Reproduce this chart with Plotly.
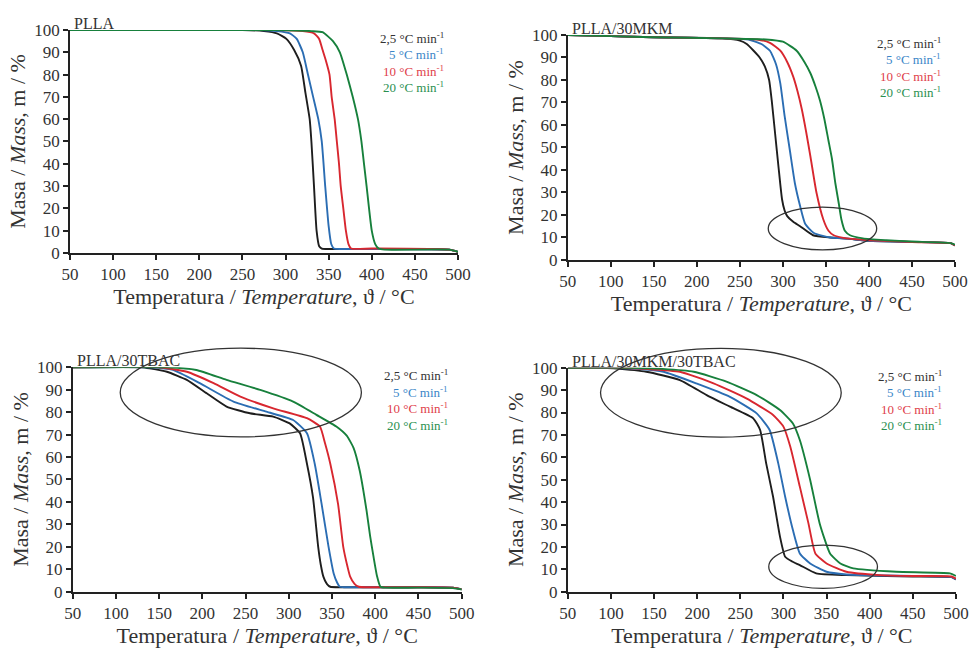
import plotly.graph_objects as go

# ---------------- data ----------------
panel_titles = ["PLLA", "PLLA/30MKM", "PLLA/30TBAC", "PLLA/30MKM/30TBAC"]
rate_labels = ["2,5 °C min<sup>-1</sup>", "5 °C min<sup>-1</sup>", "10 °C min<sup>-1</sup>", "20 °C min<sup>-1</sup>"]
x_ticks = [50, 100, 150, 200, 250, 300, 350, 400, 450, 500]
y_ticks = [0, 10, 20, 30, 40, 50, 60, 70, 80, 90, 100]

# PLLA
plla_T_25 = [50, 250, 275, 290, 301, 310, 318, 323, 328, 330, 333, 336, 339, 342, 350, 400, 490, 500]
plla_m_25 = [100, 100, 99.5, 98.5, 96, 91, 84, 72, 60, 50, 30, 10, 3, 2, 1.8, 1.8, 1.5, 0.5]
plla_T_5 = [50, 270, 290, 305, 313, 320, 326, 332, 338, 342, 346, 350, 353, 356, 365, 400, 490, 500]
plla_m_5 = [100, 100, 99.5, 98.5, 96, 90, 80, 70, 60, 50, 30, 12, 4, 2, 1.8, 1.8, 1.5, 0.5]
plla_T_10 = [50, 290, 320, 333, 339, 343, 347, 351, 353.5, 357, 359.5, 362, 364, 367, 370, 373, 376, 400, 490, 500]
plla_m_10 = [100, 100, 99.5, 98.5, 96, 91, 86, 80, 70, 60, 50, 40, 30, 20, 10, 4, 2, 2, 1.5, 0.5]
plla_T_20 = [50, 290, 330, 343, 355, 363, 371, 378, 384, 388, 391, 394, 400, 404, 408, 415, 490, 500]
plla_m_20 = [100, 100, 99.5, 99, 95, 90, 80, 70, 60, 50, 40, 30, 10, 4, 2, 1.5, 1.5, 0.5]

# PLLA/30MKM
mkm_T_25 = [50, 100, 150, 230, 250, 258, 266, 273, 279, 284, 287, 291, 295, 299, 302, 305, 312, 320, 335, 355, 375, 400, 450, 495, 500]
mkm_m_25 = [100, 99.5, 99, 98.5, 97.5, 96, 93, 90, 86, 80, 71, 56, 41, 27, 22, 19.5, 17, 15, 11, 10, 9.5, 8.5, 8, 7.5, 6.5]
mkm_T_5 = [50, 100, 150, 230, 260, 275, 285, 292, 297, 302, 308, 314, 320, 326, 336, 355, 375, 400, 450, 495, 500]
mkm_m_5 = [100, 99.5, 99, 98.5, 98, 96, 93, 87, 78.5, 64, 49, 34, 24, 16, 12, 10, 9.5, 8.5, 8, 7.5, 6.5]
mkm_T_10 = [50, 100, 150, 230, 270, 285, 297, 305, 312, 317, 322, 327, 332, 339, 347, 353, 359, 374, 400, 450, 495, 500]
mkm_m_10 = [100, 99.5, 99, 98.5, 98, 96.5, 93, 88, 81.5, 75, 67, 57, 46, 30, 18, 13, 11, 9.6, 8.8, 8, 7.5, 6.5]
mkm_T_20 = [50, 100, 150, 230, 280, 300, 316, 325, 332, 338, 343, 348, 353, 357, 361, 365, 368, 372, 378, 393, 420, 450, 495, 500]
mkm_m_20 = [100, 99.5, 99, 98.5, 98, 97, 93, 88, 83, 77, 71, 63, 53, 45, 34, 25, 18, 13, 11, 9.6, 8.8, 8.2, 7.5, 6.8]

# PLLA/30TBAC
tbac_T_25 = [50, 130, 139, 159, 182, 205, 228, 255, 282, 301, 313, 321, 328, 334, 337, 340, 344, 348, 360, 450, 490, 500]
tbac_m_25 = [100, 100, 99.5, 98, 94.4, 88.4, 82.5, 79.5, 78, 75, 70.6, 57, 42, 20, 12, 6.7, 3.5, 2.2, 2, 2, 1.8, 1]
tbac_T_5 = [50, 140, 166, 197, 236, 274, 305, 321, 330, 338, 346, 352, 356, 359, 365, 450, 490, 500]
tbac_m_5 = [100, 100, 98.8, 92.9, 84.7, 80.2, 76.5, 70.6, 57, 39, 20, 8, 4, 2.2, 2, 2, 1.8, 1]
tbac_T_10 = [50, 150, 182, 213, 244, 282, 321, 336, 342, 348, 357, 363, 368, 371, 376, 381, 390, 450, 490, 500]
tbac_m_10 = [100, 100, 98, 92.9, 86.9, 81.7, 77.3, 73.6, 66, 57, 39, 20, 11, 6.7, 3.5, 2.2, 2, 2, 1.8, 1]
tbac_T_20 = [50, 160, 193, 228, 267, 305, 332, 355, 367, 375, 382, 390, 394, 398, 402, 406, 412, 450, 490, 500]
tbac_m_20 = [100, 100, 98.8, 94.4, 89.9, 84.7, 78.8, 73.6, 69.5, 64, 54, 36, 25, 15.6, 7, 2.2, 1.8, 1.8, 1.6, 1]

# PLLA/30MKM/30TBAC
both_T_25 = [50, 90, 103, 141, 180, 211, 238, 265, 273, 280, 288, 296, 302, 310, 319, 338, 373, 420, 450, 495, 500]
both_m_25 = [100, 100, 99.7, 98.2, 94.5, 87.8, 82.6, 77.4, 72.2, 57.3, 42.4, 24.6, 15.6, 13.5, 11.9, 8.2, 7.4, 7, 6.8, 6.5, 5.5]
both_T_5 = [50, 100, 130, 161, 199, 238, 269, 284, 294, 302, 311, 319, 331, 350, 373, 420, 450, 495, 500]
both_m_5 = [100, 100, 99.5, 98.2, 93, 87, 79.6, 72.2, 57.3, 42.4, 27.5, 17.1, 12.6, 8.9, 7.7, 7.2, 7, 6.5, 5.5]
both_T_10 = [50, 110, 140, 180, 219, 257, 288, 300, 308, 319, 329, 337, 350, 373, 412, 450, 495, 500]
both_m_10 = [100, 100, 99.5, 98.2, 93, 86.3, 78.9, 73.7, 64.7, 46.9, 30.5, 17.1, 12.6, 8.9, 7.4, 7, 6.8, 5.8]
both_T_20 = [50, 120, 160, 196, 234, 269, 296, 311, 319, 331, 342, 354, 366, 381, 431, 493, 500]
both_m_20 = [100, 100, 99.5, 98.2, 93.8, 87.8, 81.1, 75.1, 67.7, 49.9, 30.5, 17.1, 12.6, 10.4, 8.9, 8.2, 7]

# ---------------- styling ----------------
line_colors = ["#1e1e1e", "#2b6db3", "#d8272f", "#17803c"]
text_colors = ["#333333", "#3a86c8", "#e0414a", "#2a8f4f"]
FONT = "Liberation Serif, Times New Roman, serif"

# panel geometry in paper coordinates (x0, x1, y0, y1)
domains = [
    (0.0719, 0.4707, 0.6102, 0.9538),
    (0.5835, 0.9815, 0.5994, 0.9461),
    (0.0747, 0.4745, 0.0883, 0.4341),
    (0.5835, 0.9825, 0.0883, 0.4334),
]

panels = [
    [(plla_T_25, plla_m_25), (plla_T_5, plla_m_5), (plla_T_10, plla_m_10), (plla_T_20, plla_m_20)],
    [(mkm_T_25, mkm_m_25), (mkm_T_5, mkm_m_5), (mkm_T_10, mkm_m_10), (mkm_T_20, mkm_m_20)],
    [(tbac_T_25, tbac_m_25), (tbac_T_5, tbac_m_5), (tbac_T_10, tbac_m_10), (tbac_T_20, tbac_m_20)],
    [(both_T_25, both_m_25), (both_T_5, both_m_5), (both_T_10, both_m_10), (both_T_20, both_m_20)],
]

fig = go.Figure()
layout = dict(
    width=973, height=649,
    margin=dict(l=0, r=0, t=0, b=0),
    paper_bgcolor="white", plot_bgcolor="white",
    showlegend=False,
    font=dict(family=FONT, color="#333333"),
)

annotations = []
shapes = []

for i, (series, dom) in enumerate(zip(panels, domains)):
    n = "" if i == 0 else str(i + 1)
    xa, ya = "x" + n, "y" + n
    for j, (T, m) in enumerate(series):
        fig.add_trace(go.Scatter(
            x=T, y=m, mode="lines", xaxis=xa, yaxis=ya,
            line=dict(color=line_colors[j], width=1.9, shape="spline", smoothing=0.5),
            hoverinfo="skip",
        ))
    x0, x1, y0, y1 = dom
    layout["xaxis" + n] = dict(
        domain=[x0, x1], anchor=ya, range=[50, 500], tickvals=x_ticks,
        automargin=False,
        showgrid=False, zeroline=False, showline=True, linecolor="#222", linewidth=1.8,
        ticks="outside", ticklen=5, tickwidth=1.5, tickcolor="#222",
        tickfont=dict(size=17, family=FONT, color="#333"),
        title=dict(text="Temperatura / <i>Temperature</i>, ϑ / °C",
                   font=dict(size=22, family=FONT, color="#333"), standoff=2),
    )
    layout["yaxis" + n] = dict(
        domain=[y0, y1], anchor=xa, range=[0, 100], tickvals=y_ticks,
        automargin=False,
        showgrid=False, zeroline=False, showline=True, linecolor="#222", linewidth=1.8,
        ticks="outside", ticklen=5, tickwidth=1.5, tickcolor="#222",
        tickfont=dict(size=17, family=FONT, color="#333"),
        title=dict(text="Masa / <i>Mass</i>, m / %",
                   font=dict(size=22, family=FONT, color="#333"), standoff=2),
    )
    # panel label
    annotations.append(dict(
        text=panel_titles[i], xref="paper", yref="paper",
        x=x0 + 0.0025, y=y1 - 0.006, xanchor="left", yanchor="bottom",
        showarrow=False, font=dict(size=16, family=FONT, color="#333"),
    ))
    # rate labels (legend)
    leg_x = x1 - 0.012
    top_y = y1 - 0.012
    for j, lab in enumerate(rate_labels):
        annotations.append(dict(
            text=lab, xref="paper", yref="paper",
            x=leg_x, y=top_y - j * 0.0255, xanchor="right", yanchor="middle",
            showarrow=False, font=dict(size=13, family=FONT, color=text_colors[j]),
        ))

# highlight ellipses (data-space extents converted to domain fractions)
ellipses = [
    (2, 283, 409, 4.5, 23.5),
    (3, 105, 384, 69, 108.5),
    (4, 88, 367, 69, 108.6),
    (4, 283, 409, 1.5, 20.8),
]
for (p, ta, tb, ma, mb) in ellipses:
    n = "" if p == 1 else str(p)
    shapes.append(dict(
        type="circle", xref="x" + n + " domain", yref="y" + n + " domain",
        x0=(ta - 50) / 450, x1=(tb - 50) / 450, y0=ma / 100, y1=mb / 100,
        line=dict(color="#333", width=1.3), layer="above",
    ))

layout["annotations"] = annotations
layout["shapes"] = shapes
fig.update_layout(**layout)
fig.write_html(
    "out.html",
    config={"displayModeBar": False},
    post_script="document.body.style.margin='0px';document.body.style.padding='0px';",
)
